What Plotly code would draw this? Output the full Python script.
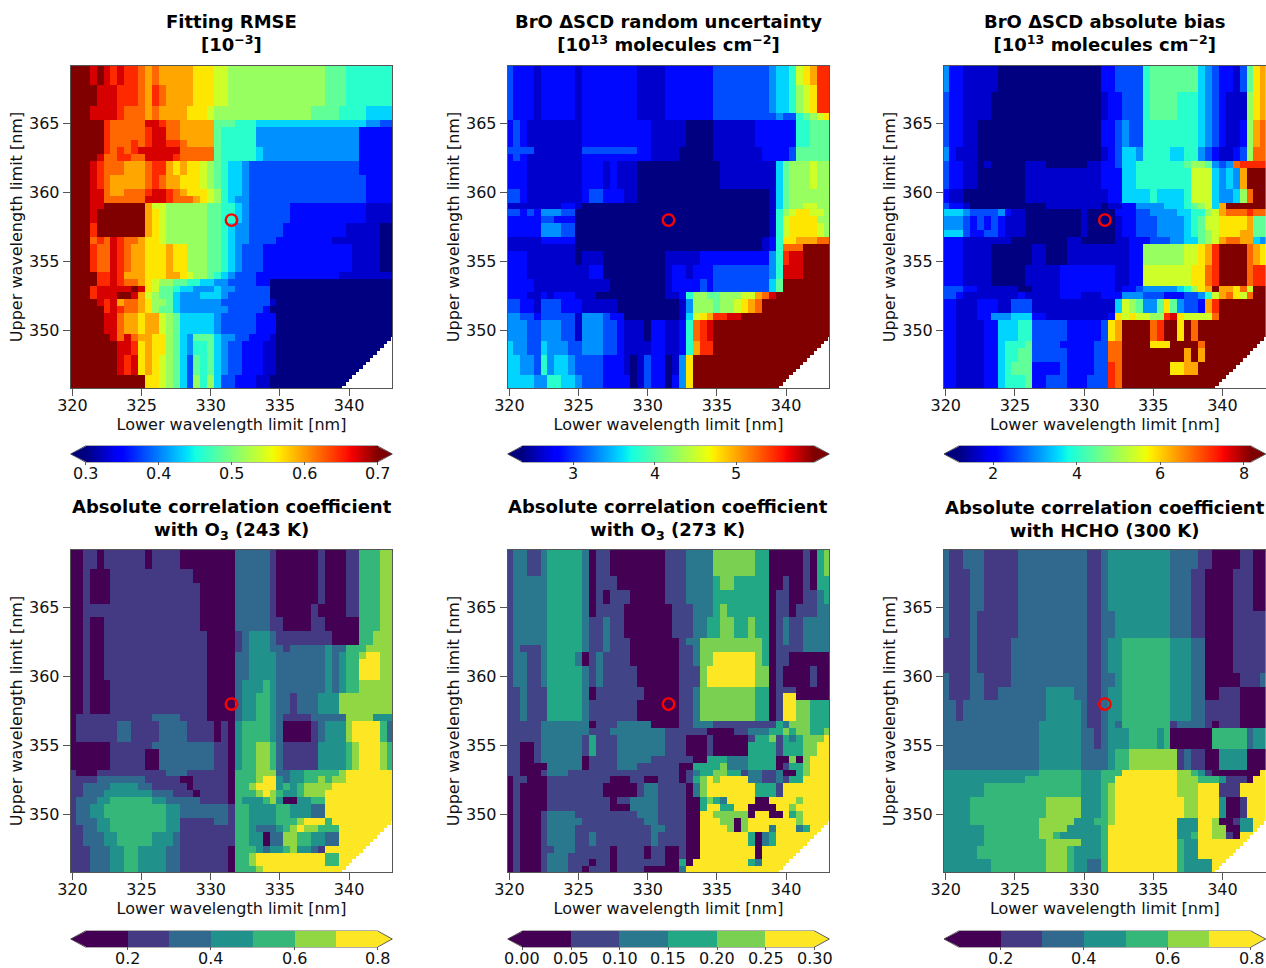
import numpy as np
import plotly.graph_objects as go

# ---------- data: rows run from 369 nm (top) to 346 nm (bottom), columns from 320 to 343 nm, 0.5 nm step
CODES = "0123456789abcdef"
rmse_rows = [
 *["fffef ededd cbcbb bbbaa a9988 88888 88888 88777 66666 66"]*3,
 *["ffffe eeddd cbdcb bbbaa a9988 88888 88888 88777 66666 66"]*3,
 *["fffee eedcc cbcbb bbaaa 98888 88888 88888 77776 66655 55"]*2,
 "fffff dcccc ceedc cbbbb b7776 66555 55555 55555 55544 33",
 *["fffff dcccc cdeec cbbbb b7666 66444 44444 44444 44222 22"]*2,
 "fffff dcccd cdeed dcbbb b7666 66444 44444 44444 44222 22",
 "fffff dcdcd eeeee ecccc c7666 66544 44444 44444 44222 22",
 "ffffe ccddc ceeee dcccc c7666 66544 44444 44444 44222 22",
 *["fffed cccbb bcddb abaa9 87655 43333 33333 33333 33222 22"]*2,
 *["fffed cbbbb bcdcb baaa9 87655 43333 33333 33333 33322 22"]*2,
 "fffee cbbcc cdeed cbaaa 98655 43333 33333 33333 33322 22",
 "fffee ccccc ceeed cccba 98654 43333 33333 33333 33322 22",
 "fffee fffff fb998 88888 77665 43333 33222 22222 22211 11",
 *["fffef fffff fba98 88888 77665 43333 33222 22222 22211 11"]*2,
 *["fffdf fffff fba98 88888 77654 43333 32222 22222 11111 00"]*2,
 "fffcd cedcc baa98 88888 77654 43333 22222 22211 11111 00",
 *["fffdc cedcb baaab aa888 77654 33322 22222 22222 21111 00"]*4,
 "ffffd dedbb baaab ba988 76543 33222 22222 22221 11111 11",
 "ffffd dedcc ba988 77665 54433 33220 00000 00000 00000 00",
 "fffde eeeef ea977 65544 45443 33330 00000 00000 00000 00",
 "fffde eeffe b9877 54445 55433 33330 00000 00000 00000 00",
 "ffffe debcc ba887 54444 44333 33331 00000 00000 00000 00",
 "fffff dedcc ba877 54444 44433 33320 00000 00000 00000 00",
 *["fffff eecbb abb98 75555 54333 33222 00000 00000 00000 00"]*3,
 "fffff fecec bbaa8 75477 75443 32221 00000 00000 00000 00",
 *["fffff ffeed abaa8 75466 75433 22211 00000 00000 00000 00"]*2,
 *["fffff ffede aba98 75376 75433 22211 00000 00000 00000 00"]*3,
 *["fffff fffff faa98 75386 85332 22110 00000 00000 00000 00"]*2,
]
random_rows = [
 *["32221 22222 12222 22221 11122 22222 33333 33345 569ab dd"]*3,
 *["32221 22222 12222 22221 11122 22222 33333 33345 5689a dd"]*4,
 "32221 22222 12222 22221 11122 22222 33333 33334 33678 9a",
 *["23211 11111 12222 22222 21111 10000 11111 12222 22667 77"]*4,
 "33331 11111 13333 33332 21111 00000 11111 11222 23777 77",
 "23211 11111 12222 22222 21111 00000 11111 11222 23777 77",
 *["22211 11111 12221 21110 00000 00000 01111 11115 78889 88"]*4,
 *["33211 11111 12332 22110 00000 00000 00000 00015 78888 88"]*2,
 "11111 11122 10000 00000 00000 00000 00000 00015 78899 88",
 "33232 44433 00000 00000 00000 00000 00000 00016 89aa9 98",
 "22222 33222 00000 00000 00000 00000 00000 00016 9aaaa 88",
 *["22222 44433 00000 00000 00000 00000 00000 00016 9aaaa 98"]*2,
 "11111 22222 00000 00000 00000 00000 00000 00126 aabbb cc",
 "11111 11111 00000 00000 00000 00000 00000 00126 cccff ff",
 *["22211 11111 01110 00000 00011 11122 22222 22246 deeff ff"]*2,
 *["22211 11111 11220 00000 00012 21222 33333 33346 eeeff ff"]*2,
 *["22221 11111 11111 00000 00012 22232 33333 33357 fffff ff"]*2,
 "22211 21222 11100 00000 00011 26887 78889 9bcef fffff ff",
 *["33221 33322 21111 10000 00000 14888 7889a bcfff fffff ff"]*2,
 "44332 33333 14443 22000 00000 159ab ddeef fffff fffff ff",
 *["44433 44433 14443 32111 02211 26cde fffff fffff fffff ff"]*3,
 *["54433 54443 34443 32111 12211 26bdd fffff fffff fffff ff"]*2,
 *["55443 64554 33332 22101 32201 4afff fffff fffff fffff ff"]*3,
 *["55554 46655 43332 22201 32202 4afff fffff fffff fffff ff"]*2,
]
bias_rows = [
 *["42211 11100 00000 00000 00022 33336 77777 77543 22137 ab"]*4,
 *["32211 11000 00000 00000 00012 23336 77776 66543 21118 ab"]*4,
 *["32211 00000 00000 00000 00022 34336 66666 66543 21128 bc"]*4,
 *["42111 00000 00000 00000 00012 35546 66655 66432 11238 cc"]*2,
 "32211 01000 00111 00000 01122 35566 66666 78874 34cdd dd",
 *["32211 00000 00111 11111 11122 25566 66666 69995 454bf ff"]*3,
 *["21100 00000 00111 11111 11112 25555 65555 69995 4458c ff"]*2,
 "32210 00000 00000 11111 11101 12244 44555 67895 bffff ff",
 "55543 33342 11000 00000 10000 22233 44445 56689 bcccd cc",
 *["44432 32321 11000 00000 10000 12233 34444 56799 aaaab 77"]*2,
 "55532 23321 11000 00000 10000 12233 34444 56789 aaabb 77",
 "22211 11111 00000 00011 00000 11222 33344 55789 bccbb 54",
 *["22211 11000 00011 00011 11111 11228 88888 99abd ffffc ba"]*3,
 *["22211 11000 00111 11222 22222 11229 99999 9aacd ffffc dd"]*3,
 "33322 11111 10011 11222 22222 12234 44445 68abf bbac9 ff",
 "33211 11111 12111 11222 11122 24443 33222 33469 bca9c ff",
 *["22111 22211 33311 11111 11111 59874 47a74 332bd fffff ff"]*2,
 "22111 22444 55522 11111 11112 a9a99 88dea 9999c fffff ff",
 *["22111 12255 56633 33322 2223a bffff cdffa fcfff fffff ff"]*3,
 "22111 12256 66733 33222 2233c cffff aaaff ffcff fffff ff",
 *["22111 12256 67733 33322 2233c cffff fffff bfbff fffff ff"]*2,
 *["22111 12256 77722 22322 2233d cffff fffaa bbfff fffff ff"]*2,
 "22111 12256 66722 33322 2333d cffff fffff fffff fffff ff",
]
o3_243_rows = [
 *["00110 11111 10111 10000 00002 22221 00000 01000 11444 55"]*3,
 *["00100 01111 11111 11100 00002 22221 00000 01000 11444 55"]*2,
 *["00100 01111 11111 11110 00002 22221 00000 01000 11444 55"]*3,
 *["00111 11111 11111 11110 00002 22221 00000 10000 11444 55"]*2,
 *["00100 11111 11111 11110 00002 22221 10000 11000 00444 55"]*2,
 *["00100 11111 11111 11111 00001 23332 11111 11100 00445 55"]*2,
 "00100 11111 11111 11111 00001 23332 21222 22322 44455 55",
 "00100 11111 11111 11111 00002 23333 22222 22323 44566 55",
 *["00100 11111 11111 11111 00002 23333 22222 22323 44666 55"]*3,
 *["00100 01111 11111 11111 00002 33343 22222 22323 44555 55"]*2,
 *["00100 01111 11111 11111 00002 33443 22122 23335 55555 55"]*3,
 "01111 11111 11222 21111 00002 33443 21111 22222 55553 33",
 *["01111 11221 11122 22111 10103 44443 20000 12333 56666 42"]*3,
 "00000 01111 11222 22222 21103 44554 21111 13333 45666 54",
 *["00000 01111 10022 22222 21103 44554 21111 13333 45666 54"]*3,
 "10001 11111 11112 22111 11104 44555 22334 44445 66666 66",
 "11112 22222 21111 10011 11104 44566 32334 45455 66666 66",
 "11222 23333 22111 11011 11104 45666 34345 55566 66666 66",
 "11222 33333 33222 11101 11104 44565 43345 55666 66666 66",
 "12223 34444 44332 22221 11104 33345 30033 44666 66666 66",
 *["12233 44444 44443 32222 22214 43333 44333 22666 66666 66"]*2,
 "12223 34444 44443 31111 12214 43333 44456 66466 66666 66",
 "11223 34444 44443 31111 11114 43222 34565 54446 66666 66",
 *["11222 33444 44333 21111 11114 43302 25544 33226 66666 66"]*2,
 "11122 23344 33332 21111 11104 44323 34533 21666 66666 66",
 *["11122 23344 33332 21111 11104 45666 66666 66446 66666 66"]*2,
 "11122 23344 33332 21111 11104 44566 66666 66666 66666 66",
]
o3_273_rows = [
 *["12211 23333 32011 00000 00011 12222 44444 43300 00010 34"]*4,
 *["12222 23333 32011 10000 00011 12222 34433 33300 10010 33"]*2,
 *["12222 23333 32010 11100 00011 12222 33333 33301 10011 23"]*2,
 *["12222 23333 32011 11000 00001 11222 34333 33301 10111 22"]*2,
 *["12222 23333 32112 11000 00001 11223 34433 43301 21122 22"]*3,
 "12222 23333 32112 11100 00000 12244 44444 44301 21122 22",
 "12111 23333 32112 11100 00000 11244 44444 44301 11122 22",
 *["12211 23333 20121 11100 00000 11244 55555 54301 10000 00"]*2,
 *["12211 23333 32121 11110 00000 11145 55555 54401 00001 00"]*3,
 "11211 13333 32011 11111 00000 11244 44444 43301 11000 00",
 "11211 13333 32011 11111 00000 11244 44444 43301 55000 00",
 *["11211 13333 32111 11110 00000 11244 44444 43301 55443 33"]*3,
 "11111 22222 22011 12222 20000 11222 11111 11113 24443 33",
 "11111 22222 22111 22222 22211 11110 00011 22233 43443 34",
 "11111 22222 21311 12222 22211 10001 00000 13341 32344 45",
 *["11001 22222 21311 12222 22211 10001 00000 33331 33344 55"]*2,
 "11001 22222 20111 12222 21111 11003 33222 33330 04045 55",
 "11000 02222 20111 12221 11111 00333 34222 33330 13345 55",
 "11000 12221 11111 11111 11111 01233 44331 22112 00345 55",
 "01100 01111 11111 00011 00111 01345 45555 22112 13355 55",
 *["01000 01111 11110 00001 22111 10245 55555 53331 55555 55"]*2,
 "01000 01111 11111 01122 22111 10034 32555 50055 55455 55",
 "01000 01111 11111 00022 22111 10035 53355 00005 54555 55",
 "01000 12222 11111 11112 22111 10055 44444 05500 53455 55",
 "01000 12222 21111 11111 22111 10055 54404 55555 55455 55",
 "01000 12222 11111 11111 12211 10055 55404 55525 55235 55",
 *["01000 12222 11211 11111 12111 10055 55555 30235 55555 55"]*2,
 "01000 11222 11111 01111 01100 10055 55555 50555 55555 55",
 "01000 12221 11111 01111 01100 10055 55555 50555 55555 55",
 "01000 12221 11011 01111 11100 30555 55555 32555 55555 55",
 "01000 12221 10111 01111 00000 25555 55555 55555 55555 55",
]
hcho_rows = [
 *["21122 21111 12222 22222 21123 33333 33322 22110 00011 00"]*3,
 *["21112 21111 12222 22222 21123 33333 33322 21100 00111 00"]*6,
 *["21112 11111 12222 22222 21122 33333 33322 21100 00111 11"]*4,
 *["11112 11111 22222 22222 21123 34444 44433 32200 00111 11"]*5,
 *["21112 21111 22222 22222 21122 34444 44433 32200 00011 12"]*2,
 *["21112 21122 22222 33332 21123 34444 44433 32200 11100 00"]*2,
 *["22122 22222 22222 33333 21123 34444 44433 32211 11100 00"]*3,
 "22222 22222 22223 33333 21123 24444 44412 22210 11100 00",
 *["22222 22222 22223 33333 22123 33444 43400 00004 44442 33"]*3,
 *["22222 22222 22223 33333 22223 44555 55551 21100 33330 00"]*3,
 "33333 33333 33334 44444 33344 46666 66665 54310 00000 06",
 "33333 33333 33444 44444 33344 66666 66665 55444 31110 66",
 *["33333 34444 44444 44444 33345 66666 66665 55666 11166 66"]*2,
 *["33334 44444 44444 55555 33345 66666 66666 55666 30016 66"]*3,
 "33334 44444 44445 55553 33445 66666 66663 33665 00133 66",
 "33333 34444 44445 55533 33346 66666 66663 33665 50033 66",
 "33333 34444 44445 54333 33346 66666 66663 34665 51066 66",
 "33333 34444 44444 55555 33346 66666 66664 33666 66666 66",
 *["33333 44444 44444 55543 33346 66666 66664 33666 66666 66"]*2,
 *["33333 33444 44444 55543 32246 66666 66664 33336 66666 66"]*2,
]
x_ticks = [320, 325, 330, 335, 340]
y_ticks = [350, 355, 360, 365]
selected_x = [331.5]
selected_y = [358.0]
MIN_WINDOW = 6.4   # fits narrower than this (upper minus lower limit, nm) were not run

JET = [[0, "rgb(0,0,128)"], [.11, "rgb(0,0,255)"], [.125, "rgb(0,0,255)"], [.34, "rgb(0,219,255)"],
       [.35, "rgb(0,230,247)"], [.375, "rgb(20,255,226)"], [.64, "rgb(239,255,8)"], [.65, "rgb(247,245,0)"],
       [.66, "rgb(255,236,0)"], [.89, "rgb(255,19,0)"], [.91, "rgb(246,0,0)"], [1, "rgb(128,0,0)"]]
V7 = ["#440154", "#443983", "#31688e", "#21918c", "#35b779", "#90d743", "#fde725"]
V6 = ["#440154", "#414487", "#2a788e", "#22a884", "#7ad151", "#fde725"]

def stepped(cols):
    n = len(cols); out = []
    for i, c in enumerate(cols):
        out += [[i / n, c], [(i + 1) / n, c]]
    return out

panels = [
 dict(rows=rmse_rows, vmin=.3, vmax=.7, cs=JET, n=15, ticks=[.3, .4, .5, .6, .7], labels=["0.3", "0.4", "0.5", "0.6", "0.7"],
      title="Fitting RMSE<br>[10<sup>−3</sup>]", lo="#00007f", hi="#7f0000"),
 dict(rows=random_rows, vmin=2.38, vmax=5.96, cs=JET, n=15, ticks=[3, 4, 5], labels=["3", "4", "5"],
      title="BrO ΔSCD random uncertainty<br>[10<sup>13</sup> molecules cm<sup>−2</sup>]", lo="#00007f", hi="#7f0000"),
 dict(rows=bias_rows, vmin=1.18, vmax=8.17, cs=JET, n=15, ticks=[2, 4, 6, 8], labels=["2", "4", "6", "8"],
      title="BrO ΔSCD absolute bias<br>[10<sup>13</sup> molecules cm<sup>−2</sup>]", lo="#00007f", hi="#7f0000"),
 dict(rows=o3_243_rows, vmin=.1, vmax=.8, cs=stepped(V7), n=None, ticks=[.2, .4, .6, .8], labels=["0.2", "0.4", "0.6", "0.8"],
      title="Absolute correlation coefficient<br>with O<sub>3</sub> (243 K)", lo=V7[0], hi=V7[-1]),
 dict(rows=o3_273_rows, vmin=0, vmax=.3, cs=stepped(V6), n=None, ticks=[0, .05, .1, .15, .2, .25, .3],
      labels=["0.00", "0.05", "0.10", "0.15", "0.20", "0.25", "0.30"],
      title="Absolute correlation coefficient<br>with O<sub>3</sub> (273 K)", lo=V6[0], hi=V6[-1], levels=6),
 dict(rows=hcho_rows, vmin=.1, vmax=.8, cs=stepped(V7), n=None, ticks=[.2, .4, .6, .8], labels=["0.2", "0.4", "0.6", "0.8"],
      title="Absolute correlation coefficient<br>with HCHO (300 K)", lo=V7[0], hi=V7[-1]),
]

W, H = 1266, 968
X_PX = [(70.7, 392.3), (507.7, 829.3), (944.0, 1265.7)]
Y_PX = [(66, 388), (550, 872)]
TITLE_Y = [33, 519]
CB_Y = [446, 931]
CB_LABEL_Y = [473, 958]
CB_T = 16
FONT = "DejaVu Sans"
INK = "#111111"
LINE = "#555555"
EDGE = "#333333"
TICK = 16

def decode(p):
    rows = []
    for r in p["rows"]:
        s = r.replace(" ", "")
        s = (s + s[-1] * 47)[:47]
        rows.append(s)
    while len(rows) < 47:
        rows.append(rows[-1])
    rows = rows[:47]
    k = np.array([[CODES.index(c) for c in r] for r in rows], dtype=float)[::-1]
    if p["n"]:
        z = p["vmin"] + k / p["n"] * (p["vmax"] - p["vmin"])
    else:
        lv = p.get("levels", 7)
        z = p["vmin"] + (k + .5) / lv * (p["vmax"] - p["vmin"])
    z = np.repeat(np.repeat(z, 2, axis=0), 2, axis=1)
    return z

fig = go.Figure()
layout = dict(width=W, height=H, autosize=False, margin=dict(l=0, r=0, t=0, b=0, autoexpand=False), paper_bgcolor="white",
              plot_bgcolor="white", showlegend=False, font=dict(family=FONT, size=TICK, color=INK))
shapes, notes = [], []
for i, p in enumerate(panels):
    row, col = i // 3, i % 3
    x0, x1 = X_PX[col]
    y0, y1 = Y_PX[row]
    sx = "" if i == 0 else str(i + 1)
    z = decode(p)
    xs = 319.875 + .25 * np.arange(z.shape[1])
    ys = 345.875 + .25 * np.arange(z.shape[0])
    z[(ys[:, None] - xs[None, :]) < MIN_WINDOW] = np.nan
    ext = (x1 - x0) * .05 / 1.1
    inner = x1 - x0 - 2 * ext
    fig.add_trace(go.Heatmap(
        z=z, x=xs, y=ys, xaxis="x" + sx, yaxis="y" + sx, colorscale=p["cs"], zmin=p["vmin"], zmax=p["vmax"],
        hoverongaps=False,
        colorbar=dict(orientation="h", x=(x0 + x1) / 2 / W, xanchor="center", y=1 - CB_Y[row] / H, yanchor="top",
                      lenmode="pixels", len=inner, thicknessmode="pixels", thickness=CB_T, xpad=0, ypad=0,
                      outlinewidth=0, tickmode="array", tickvals=p["ticks"], ticktext=[""] * len(p["ticks"]),
                      ticks="outside", ticklen=3, tickcolor=LINE, tickfont=dict(family=FONT, size=TICK, color=INK))))
    fig.add_trace(go.Scatter(x=selected_x, y=selected_y, xaxis="x" + sx, yaxis="y" + sx, mode="markers",
                             marker=dict(size=11.5, color="rgba(0,0,0,0)", line=dict(color="#ff0000", width=2.4))))
    layout["xaxis" + sx] = dict(domain=[x0 / W, x1 / W], range=[319.875, 343.125], anchor="y" + sx, tickvals=x_ticks,
                                ticks="outside", ticklen=7, tickcolor=LINE, showline=True, linecolor=LINE, mirror=True,
                                showgrid=False, zeroline=False, tickfont=dict(size=TICK, color=INK), ticklabelstandoff=-4,
                                title=dict(text="Lower wavelength limit [nm]", font=dict(size=TICK, color=INK), standoff=3))
    layout["yaxis" + sx] = dict(domain=[1 - y1 / H, 1 - y0 / H], range=[345.875, 369.125], anchor="x" + sx, tickvals=y_ticks,
                                ticks="outside", ticklen=7, tickcolor=LINE, showline=True, linecolor=LINE, mirror=True,
                                showgrid=False, zeroline=False, tickfont=dict(size=TICK, color=INK),
                                title=dict(text="Upper wavelength limit [nm]", font=dict(size=TICK, color=INK), standoff=2))
    top, bot = 1 - CB_Y[row] / H, 1 - (CB_Y[row] + CB_T) / H
    mid = (top + bot) / 2
    a, b = (x0 + ext) / W, (x1 - ext) / W
    nudge = 1.2 / W
    for tip, base, c in ((x0 / W, a + nudge, p["lo"]), (x1 / W, b - nudge, p["hi"])):
        shapes.append(dict(type="path", xref="paper", yref="paper", fillcolor=c, line=dict(width=0),
                           path=f"M {base} {top} L {tip} {mid} L {base} {bot} Z"))
    shapes.append(dict(type="path", xref="paper", yref="paper", line=dict(color=EDGE, width=.8),
                       path=f"M {a} {top} L {b} {top} L {x1 / W} {mid} L {b} {bot} L {a} {bot} L {x0 / W} {mid} Z"))
    for v, lab in zip(p["ticks"], p["labels"]):
        notes.append(dict(text=lab, xref="paper", yref="paper", showarrow=False, xanchor="center", yanchor="middle",
                          x=(x0 + ext + (v - p["vmin"]) / (p["vmax"] - p["vmin"]) * inner) / W, y=1 - CB_LABEL_Y[row] / H,
                          font=dict(family=FONT, size=TICK, color=INK)))
    notes.append(dict(text="<b>" + p["title"].replace("<br>", "</b><br><b>") + "</b>", xref="paper", yref="paper",
                      x=(x0 + x1) / 2 / W, y=1 - TITLE_Y[row] / H, yanchor="middle", xanchor="center", showarrow=False,
                      font=dict(family=FONT, size=18, color="black")))
layout["shapes"] = shapes
layout["annotations"] = notes
fig.update_layout(**layout)
fig.write_html("out.html", post_script="document.body.style.margin='0';", config={"displayModeBar": False})
